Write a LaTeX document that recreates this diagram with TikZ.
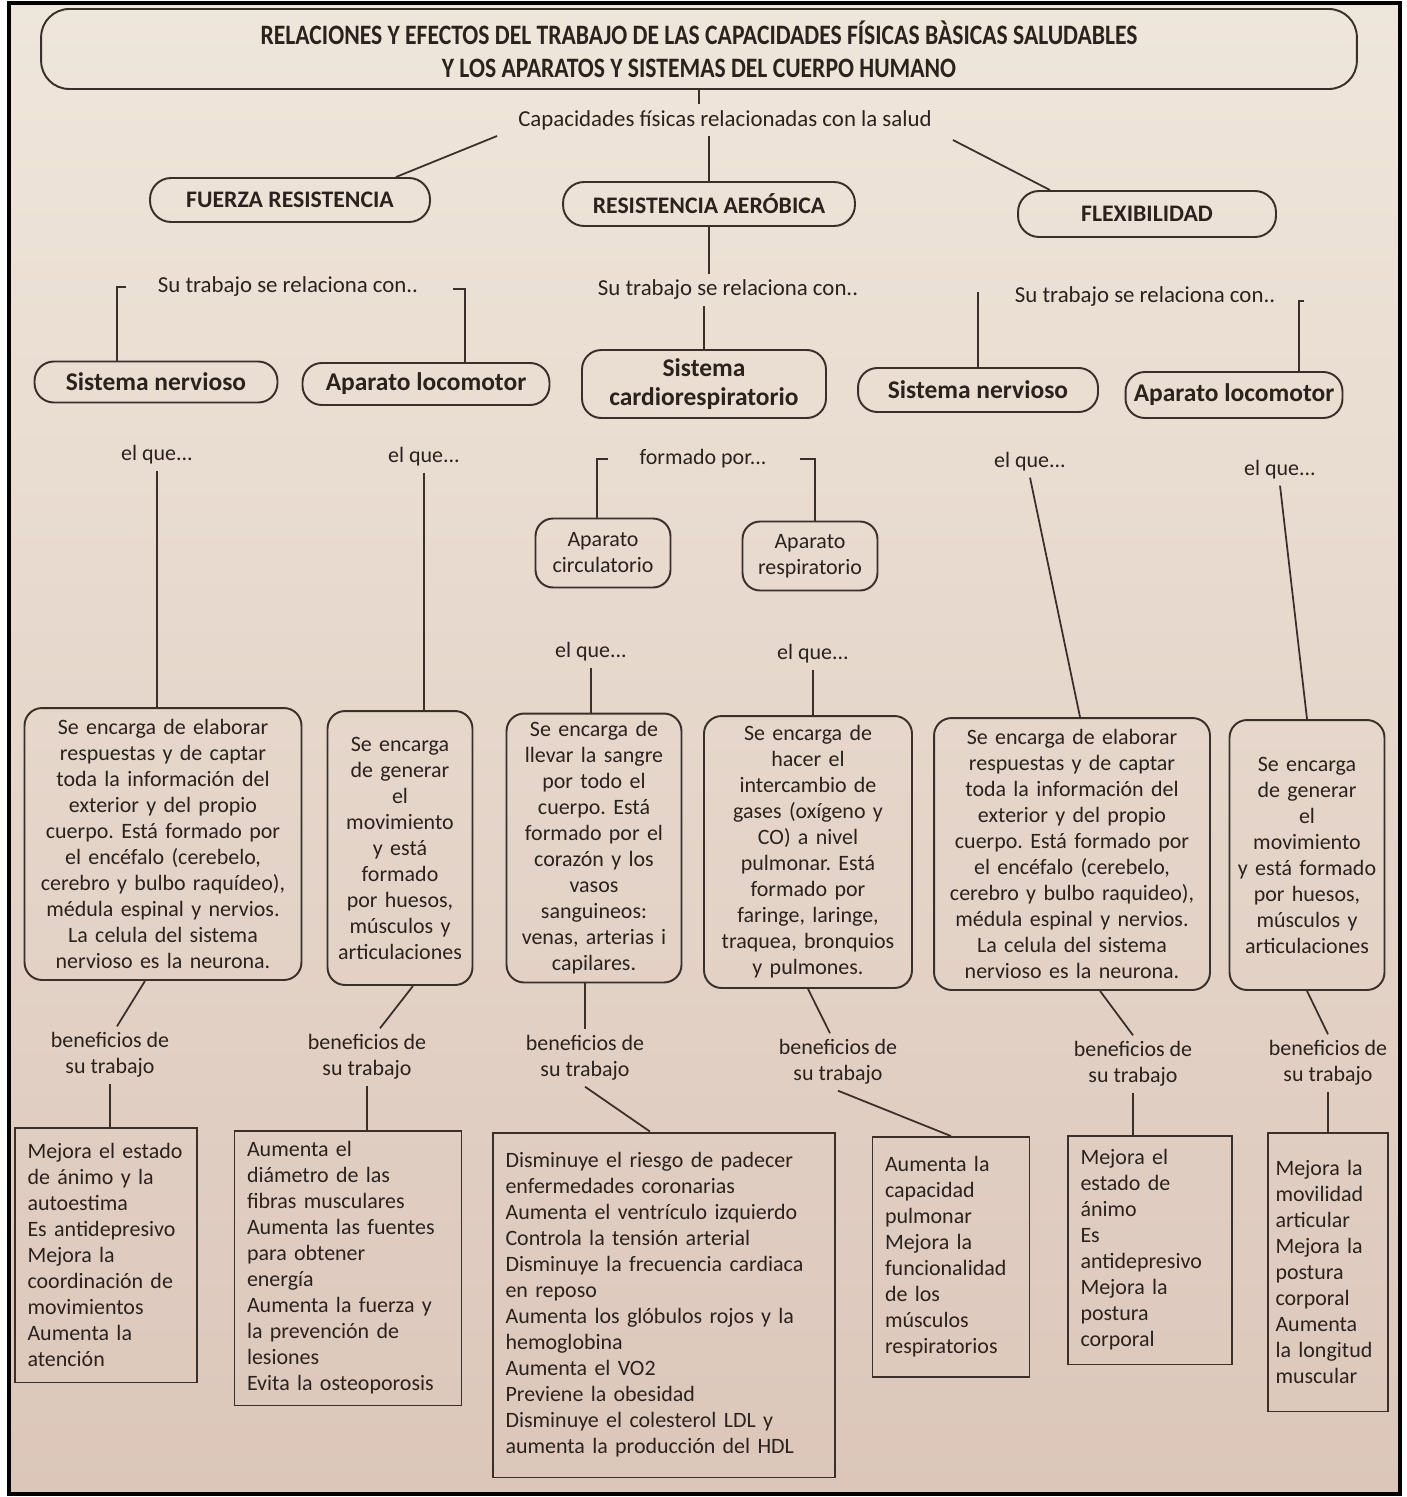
\documentclass[tikz,border=0pt]{standalone}
\usepackage{fontspec}
\setmainfont{Carlito}
\newfontfamily\condfont[FakeStretch=0.84]{Carlito}
\usepackage{tikz}
\usetikzlibrary{positioning,calc}
\frenchspacing
\definecolor{cfInk}{HTML}{2B221E}
\definecolor{cfLine}{HTML}{3A2F29}
\definecolor{cfPaperTop}{HTML}{EFE6DB}
\definecolor{cfPaperBot}{HTML}{DCC6BA}
\tikzset{
  cfnode/.style={draw=cfLine, line width=1.1pt, text=cfInk, align=center, inner sep=2pt},
  titlebox/.style={cfnode, rounded corners=16pt, minimum width=26.32cm, minimum height=1.6cm,
    font=\condfont\bfseries\fontsize{16}{19}\selectfont},
  capbox/.style={cfnode, rounded corners=12pt, minimum height=0.88cm,
    font=\bfseries\fontsize{13.5}{15}\selectfont},
  sysbox/.style={cfnode, rounded corners=11pt, minimum height=0.84cm,
    font=\bfseries\fontsize{14.5}{16.5}\selectfont},
  organbox/.style={cfnode, rounded corners=10pt, minimum width=2.7cm, minimum height=1.38cm,
    font=\fontsize{12.5}{14.8}\selectfont},
  descbox/.style={cfnode, rounded corners=10pt, inner xsep=0.12cm,
    font=\fontsize{12.5}{14.8}\selectfont},
  benbox/.style={cfnode, align=left, inner xsep=0.25cm,
    font=\fontsize{12.5}{14.8}\selectfont,
    execute at begin node={\hyphenpenalty=10000\exhyphenpenalty=10000}},
  cue/.style={text=cfInk, align=center, font=\fontsize{12.5}{14.8}\selectfont},
  lead/.style={text=cfInk, font=\fontsize{13}{15}\selectfont},
  link/.style={draw=cfLine, line width=1pt}
}
\begin{document}
\begin{tikzpicture}[x=0.02cm, y=-0.02cm]
  \useasboundingbox (0,0) rectangle (1406,1497);
  \fill[white] (0,0) rectangle (1406,1497);
  \shade[top color=cfPaperTop, bottom color=cfPaperBot] (9,3) rectangle (1400,1494);
  \draw[line width=1.8pt] (9,3) rectangle (1400,1494);

  % cabecera
  \node[titlebox] (title) at (699,49) {RELACIONES Y EFECTOS DEL TRABAJO DE LAS CAPACIDADES FÍSICAS BÀSICAS SALUDABLES\\Y LOS APARATOS Y SISTEMAS DEL CUERPO HUMANO};
  \node[lead] (cap) at (725,120) {Capacidades físicas relacionadas con la salud};

  % capacidades
  \node[capbox, minimum width=5.6cm] (fr) at (290,200) {FUERZA RESISTENCIA};
  \node[capbox, minimum width=5.84cm] (ra) at (709,204) {RESISTENCIA AERÓBICA};
  \node[capbox, minimum width=5.16cm, minimum height=0.92cm] (fx) at (1147,214) {FLEXIBILIDAD};

  \node[lead] (su1) at (288,287) {Su trabajo se relaciona con..};
  \node[lead] (su2) at (728,290) {Su trabajo se relaciona con..};
  \node[lead] (su3) at (1145,297) {Su trabajo se relaciona con..};

  % aparatos y sistemas
  \node[sysbox, minimum width=4.86cm, minimum height=0.82cm] (sn1) at (156,382) {Sistema nervioso};
  \node[sysbox, minimum width=4.94cm] (al1) at (426,384) {Aparato locomotor};
  \node[sysbox, minimum width=4.88cm, minimum height=1.36cm] (cr) at (704,384) {Sistema\\cardiorespiratorio};
  \node[sysbox, minimum width=4.8cm, minimum height=0.88cm] (sn2) at (978,390) {Sistema nervioso};
  \node[sysbox, minimum width=4.34cm, minimum height=0.92cm] (al2) at (1234,395) {Aparato locomotor};

  \node[cue] (eq1) at (157,455) {el que...};
  \node[cue] (eq2) at (424,457) {el que...};
  \node[cue] (fp) at (703,459) {formado por...};
  \node[cue] (eq3) at (1030,462) {el que...};
  \node[cue] (eq4) at (1280,470) {el que...};

  \node[organbox] (ac) at (603,553) {Aparato\\circulatorio};
  \node[organbox] (ar) at (810,556) {Aparato\\respiratorio};
  \node[cue] (eq5) at (591,652) {el que...};
  \node[cue] (eq6) at (813,654) {el que...};

  % funciones
  \node[descbox, text width=5.3cm, minimum height=5.44cm] (d1) at (163,844) {Se encarga de elaborar\\respuestas y de captar\\toda la información del\\exterior y del propio\\cuerpo. Está formado por\\el encéfalo (cerebelo,\\cerebro y bulbo raquídeo),\\médula espinal y nervios.\\La celula del sistema\\nervioso es la neurona.};
  \node[descbox, text width=2.66cm, minimum height=5.48cm] (d2) at (400,848) {Se encarga\\de generar\\el\\movimiento\\y está\\formado\\por huesos,\\músculos y\\articulaciones};
  \node[descbox, text width=3.26cm, minimum height=5.38cm] (d3) at (594,848) {Se encarga de\\llevar la sangre\\por todo el\\cuerpo. Está\\formado por el\\corazón y los\\vasos\\sanguineos:\\venas, arterias i\\capilares.};
  \node[descbox, text width=3.92cm, minimum height=5.44cm] (d4) at (808,852) {Se encarga de\\hacer el\\intercambio de\\gases (oxígeno y\\CO) a nivel\\pulmonar. Está\\formado por\\faringe, laringe,\\traquea, bronquios\\y pulmones.};
  \node[descbox, text width=5.28cm, minimum height=5.44cm] (d5) at (1072,854) {Se encarga de elaborar\\respuestas y de captar\\toda la información del\\exterior y del propio\\cuerpo. Está formado por\\el encéfalo (cerebelo,\\cerebro y bulbo raquideo),\\médula espinal y nervios.\\La celula del sistema\\nervioso es la neurona.};
  \node[descbox, text width=2.86cm, minimum height=5.4cm] (d6) at (1307,855) {Se encarga\\de generar\\el\\movimiento\\y está formado\\por huesos,\\músculos y\\articulaciones};

  \node[cue] (bn1) at (110,1055) {beneficios de\\su trabajo};
  \node[cue] (bn2) at (367,1057) {beneficios de\\su trabajo};
  \node[cue] (bn3) at (585,1058) {beneficios de\\su trabajo};
  \node[cue] (bn4) at (838,1062) {beneficios de\\su trabajo};
  \node[cue] (bn5) at (1133,1064) {beneficios de\\su trabajo};
  \node[cue] (bn6) at (1328,1063) {beneficios de\\su trabajo};

  % beneficios
  \node[benbox, text width=3.14cm, minimum height=5.1cm] (e1) at (106,1255) {Mejora el estado\\de ánimo y la\\autoestima\\Es antidepresivo\\Mejora la\\coordinación de\\movimientos\\Aumenta la\\atención};
  \node[benbox, text width=4.04cm, minimum height=5.5cm] (e2) at (348,1268) {Aumenta el\\diámetro de las\\fibras musculares\\Aumenta las fuentes\\para obtener\\energía\\Aumenta la fuerza y\\la prevención de\\lesiones\\Evita la osteoporosis};
  \node[benbox, text width=6.34cm, minimum height=6.9cm] (e3) at (664,1305) {Disminuye el riesgo de padecer\\enfermedades coronarias\\Aumenta el ventrículo izquierdo\\Controla la tensión arterial\\Disminuye la frecuencia cardiaca\\en reposo\\Aumenta los glóbulos rojos y la\\hemoglobina\\Aumenta el VO2\\Previene la obesidad\\Disminuye el colesterol LDL y\\aumenta la producción del HDL};
  \node[benbox, text width=2.64cm, minimum height=4.8cm] (e4) at (951,1257) {Aumenta la\\capacidad\\pulmonar\\Mejora la\\funcionalidad\\de los\\músculos\\respiratorios};
  \node[benbox, text width=2.78cm, minimum height=4.58cm] (e5) at (1150,1250) {Mejora el\\estado de\\ánimo\\Es\\antidepresivo\\Mejora la\\postura\\corporal};
  \node[benbox, inner xsep=0.15cm, text width=2.1cm, minimum height=5.58cm] (e6) at (1328,1272) {Mejora la\\movilidad\\articular\\Mejora la\\postura\\corporal\\Aumenta\\la longitud\\muscular};

  % conexiones
  \draw[link] (title.south) -- (title.south |- cap.north);
  \draw[link] ($(cap.south west)+(-15,0)$) -- ($(fr.north east)+(-35,0)$);
  \draw[link] (ra.north) -- (ra.north |- cap.south);
  \draw[link] ($(cap.south east)+(15,4)$) -- ($(fx.north)+(-97,0)$);
  \draw[link] (ra.south) -- (ra.south |- su2.north);
  \draw[link] (su2.south -| cr.north) -- (cr.north);
  \draw[link] ($(su1.west)+(-26,0)$) -| ($(sn1.north)+(-39,0)$);
  \draw[link] ($(su1.east)+(29,2)$) -| ($(al1.north)+(39,0)$);
  \draw[link] ($(su3.west)+(-30,-4)$) -| (sn2.north);
  \draw[link] ($(su3.east)+(23,4)$) -| ($(al2.north)+(65,0)$);
  \draw[link] ($(fp.west)+(-25,0)$) -| ($(ac.north)+(-6,0)$);
  \draw[link] ($(fp.east)+(27,0)$) -| ($(ar.north)+(5,0)$);

  \draw[link] (eq1.south) -- (eq1.south |- d1.north);
  \draw[link] (eq2.south) -- (eq2.south |- d2.north);
  \draw[link] (eq3.south) -- ($(d5.north)+(8,0)$);
  \draw[link] (eq4.south) -- (d6.north);
  \draw[link] (eq5.south) -- (eq5.south |- d3.north);
  \draw[link] (eq6.south) -- (eq6.south |- d4.north);

  \draw[link] ($(d1.south)+(-18,0)$) -- ($(bn1.north)+(7,0)$);
  \draw[link] ($(d2.south)+(13,0)$) -- ($(bn2.north)+(13,0)$);
  \draw[link] (d3.south -| bn3.north) -- (bn3.north);
  \draw[link] (d4.south) -- ($(bn4.north)+(-8,0)$);
  \draw[link] ($(d5.south)+(28,0)$) -- (bn5.north);
  \draw[link] (d6.south) -- (bn6.north);

  \draw[link] (bn1.south) -- (bn1.south |- e1.north);
  \draw[link] (bn2.south) -- (bn2.south |- e2.north);
  \draw[link] (bn3.south) -- ($(e3.north)+(-14,0)$);
  \draw[link] (bn4.south) -- (e4.north);
  \draw[link] (bn5.south) -- (bn5.south |- e5.north);
  \draw[link] (bn6.south) -- (e6.north);
\end{tikzpicture}
\end{document}
